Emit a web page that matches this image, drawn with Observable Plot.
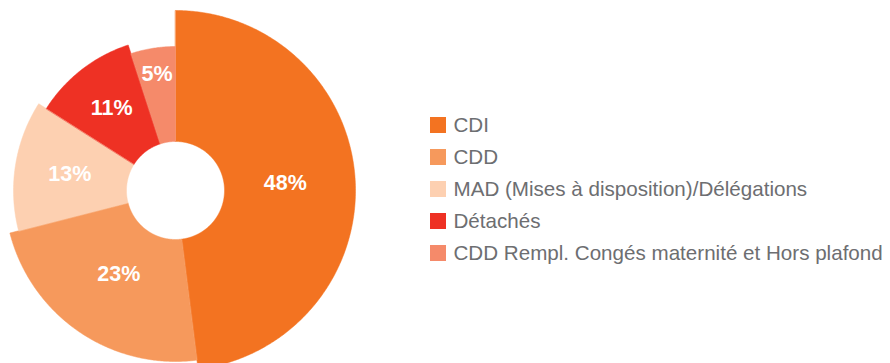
<!DOCTYPE html>
<html>
<head>
<meta charset="utf-8">
<script src="https://cdn.jsdelivr.net/npm/d3@7"></script>
<script src="https://cdn.jsdelivr.net/npm/@observablehq/plot@0.6"></script>
<style>
  html, body { margin: 0; padding: 0; background: #fff; }
  #chart svg { display: block; }
</style>
</head>
<body>
<div id="chart"></div>
<script>
// ---- data ----
const categories = [
  "CDI",
  "CDD",
  "MAD (Mises à disposition)/Délégations",
  "Détachés",
  "CDD Rempl. Congés maternité et Hors plafond"
];
const values = [48, 23, 13, 11, 5];
const valueLabels = ["48%", "23%", "13%", "11%", "5%"];

// ---- styling / layout ----
const colors = ["#F37321", "#F6995C", "#FDD0B1", "#EE3124", "#F58A6A"];
const W = 890, H = 363;
const cx = 175, cy = 190;
const innerR = 49;
const outerR = i => 180 - 9 * i;           // each slice a bit shorter than the previous
const labelR = [110, 101, 107, 104, 118];  // label placement radius per slice

const total = d3.sum(values);
let acc = 0;
const slices = values.map((v, i) => {
  const a0 = acc / total * 2 * Math.PI;
  acc += v;
  const a1 = acc / total * 2 * Math.PI;
  return {cat: categories[i], value: v, label: valueLabels[i], i, a0, a1};
});

// polygon vertices for every slice
const pts = [];
for (const s of slices) {
  const R = outerR(s.i);
  const n = Math.max(4, Math.ceil((s.a1 - s.a0) / (Math.PI / 360)));
  for (let k = 0; k <= n; k++) {
    const a = s.a0 + (s.a1 - s.a0) * k / n;
    pts.push({cat: s.cat, x: cx + R * Math.sin(a), y: cy - R * Math.cos(a)});
  }
  for (let k = n; k >= 0; k--) {
    const a = s.a0 + (s.a1 - s.a0) * k / n;
    pts.push({cat: s.cat, x: cx + innerR * Math.sin(a), y: cy - innerR * Math.cos(a)});
  }
}

const labels = slices.map(s => {
  const m = (s.a0 + s.a1) / 2;
  const r = labelR[s.i];
  return {label: s.label, x: cx + r * Math.sin(m), y: cy - r * Math.cos(m)};
});

const legendX = 430, legendY0 = 125, legendStep = 32, sw = 16;
const legend = categories.map((c, i) => ({
  cat: c,
  y: legendY0 + i * legendStep
}));

const chart = Plot.plot({
  width: W,
  height: H,
  margin: 0,
  style: {fontFamily: "'Liberation Sans', Arial, Helvetica, sans-serif", background: "#fff"},
  x: {domain: [0, W], range: [0, W], axis: null},
  y: {domain: [0, H], range: [0, H], axis: null},
  color: {domain: categories, range: colors},
  marks: [
    Plot.line(pts, {x: "x", y: "y", z: "cat", fill: "cat", stroke: "cat", strokeWidth: 0.5, curve: "linear-closed"}),
    Plot.text(labels, {x: "x", y: "y", text: "label", fill: "white", fontWeight: "bold", fontSize: 21.5}),
    Plot.rect(legend, {x1: () => legendX, x2: () => legendX + sw, y1: d => d.y - sw / 2, y2: d => d.y + sw / 2, fill: "cat"}),
    Plot.text(legend, {x: () => legendX + 23, y: "y", text: "cat", textAnchor: "start", fill: "#6d6e71", fontSize: 20.6})
  ]
});
document.getElementById("chart").append(chart);
</script>
</body>
</html>
